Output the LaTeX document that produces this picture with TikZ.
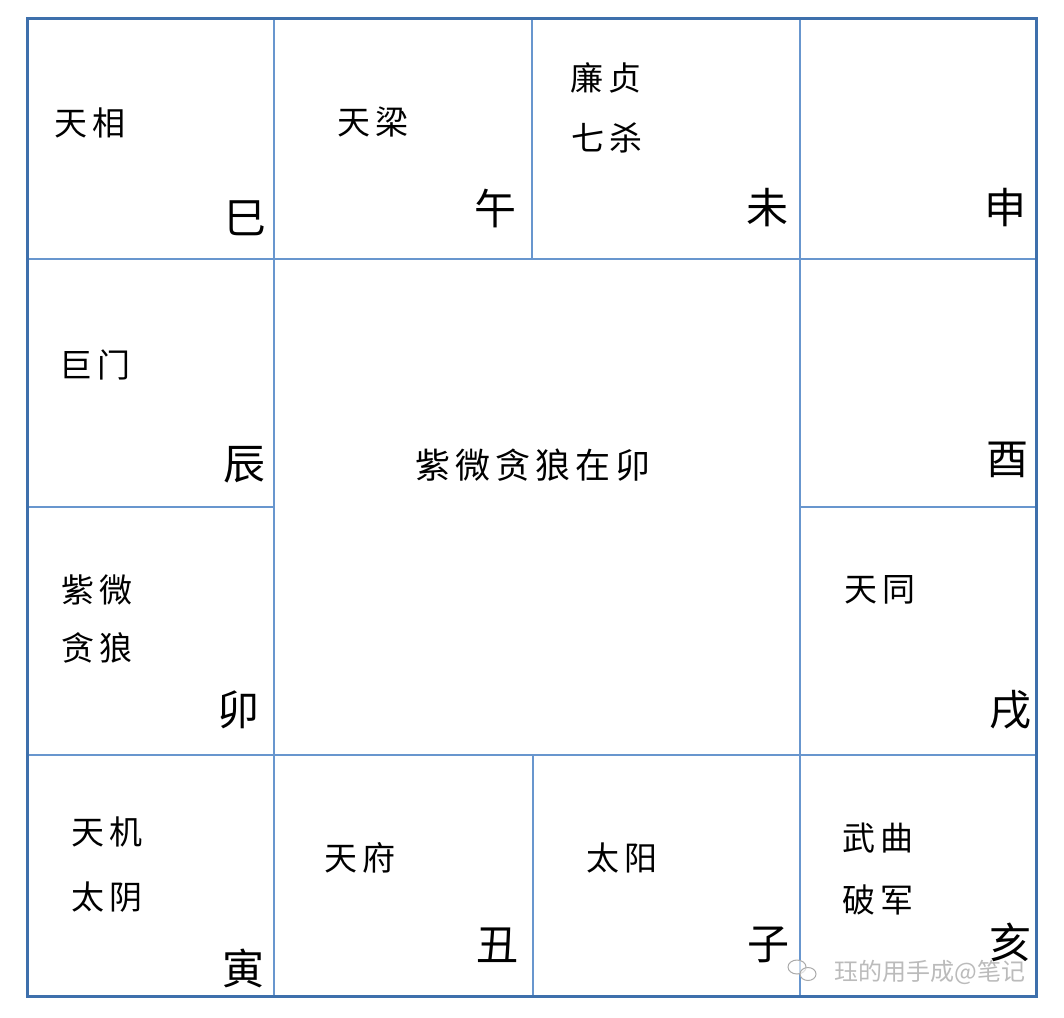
\documentclass[tikz,border=0pt]{standalone}
\usepackage{fontspec}
\newfontfamily\cjk{Noto Sans CJK SC}
\definecolor{outerblue}{RGB}{62,112,172}
\definecolor{innerblue}{RGB}{104,150,206}
\definecolor{wm}{RGB}{170,170,170}
\tikzset{
  star/.style={font=\cjk\fontsize{33}{40}\selectfont, inner sep=0pt, text=black},
  branch/.style={font=\cjk\fontsize{42}{48}\selectfont, inner sep=0pt, text=black},
  title/.style={font=\cjk\fontsize{35}{40}\selectfont, inner sep=0pt, text=black},
  innerline/.style={draw=innerblue, line width=2.4pt},
  outerline/.style={draw=outerblue, line width=3pt},
}
\newcommand{\csp}{\hspace{6pt}}
\newcommand{\tsp}{\hspace{5pt}}
\begin{document}
\begin{tikzpicture}[x=1pt,y=-1pt]
\useasboundingbox (0,0) rectangle (1064,1017);
\fill[white] (0,0) rectangle (1064,1017);
% inner grid lines
\draw[innerline] (274,18) -- (274,996);
\draw[innerline] (532,18) -- (532,259);
\draw[innerline] (533,755) -- (533,996);
\draw[innerline] (800,18) -- (800,996);
\draw[innerline] (27,259) -- (1036,259);
\draw[innerline] (27,507) -- (274,507);
\draw[innerline] (800,507) -- (1036,507);
\draw[innerline] (27,755) -- (1036,755);
\draw[outerline] (27,18) rectangle (1036,996);
% stars
\node[star] (s1) at (90,123) {天\csp{}相};
\node[star] (s2) at (373,122) {天\csp{}梁};
\node[star] (s3a) at (606,78) {廉\csp{}贞};
\node[star] (s3b) at (607,138) {七\csp{}杀};
\node[star] (s5) at (95,365) {巨\csp{}门};
\node[star] (s7a) at (97,590) {紫\csp{}微};
\node[star] (s7b) at (97,648) {贪\csp{}狼};
\node[star] (s8) at (880,590) {天\csp{}同};
\node[star] (s9a) at (107,832) {天\csp{}机};
\node[star] (s9b) at (107,897) {太\csp{}阴};
\node[star] (s10) at (360,858) {天\csp{}府};
\node[star] (s11) at (622,858) {太\csp{}阳};
\node[star] (s12a) at (878,838) {武\csp{}曲};
\node[star] (s12b) at (878,900) {破\csp{}军};
% center title
\node[title] (t) at (533,465) {紫\tsp{}微\tsp{}贪\tsp{}狼\tsp{}在\tsp{}卯};
% branches
\node[branch] (b1) at (245,218) {巳};
\node[branch] (b2) at (495,208) {午};
\node[branch] (b3) at (767,208) {未};
\node[branch] (b4) at (1005,208) {申};
\node[branch] (b5) at (244,465) {辰};
\node[branch] (b6) at (1007,460) {酉};
\node[branch] (b7) at (238,710) {卯};
\node[branch] (b8) at (1010,710) {戌};
\node[branch] (b9) at (243,968) {寅};
\node[branch] (b10) at (497,945) {丑};
\node[branch] (b11) at (768,945) {子};
\node[branch] (b12) at (1010,942) {亥};
% watermark
\draw[wm, line width=1pt, fill=white, fill opacity=0.6] (797,967) ellipse (9 and 7);
\draw[wm, line width=1pt, fill=white, fill opacity=0.6] (808,974) ellipse (8 and 6.5);
\node[font=\cjk\fontsize{24}{28}\selectfont, text=wm, text opacity=0.8, inner sep=0pt] (w) at (930,972) {珏的用手成@笔记};
\end{tikzpicture}
\end{document}
